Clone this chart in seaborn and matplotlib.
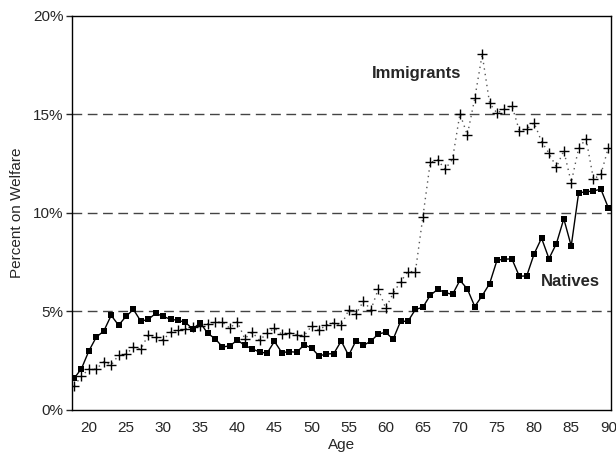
import numpy as np
import pandas as pd
import matplotlib
matplotlib.use("Agg")
import matplotlib.pyplot as plt
import seaborn as sns

ages = list(range(18, 91))

natives = [
    1.6, 2.1, 3.0, 3.7, 4.0, 4.8, 4.3, 4.75, 5.1, 4.5,
    4.6, 4.9, 4.75, 4.6, 4.55, 4.45, 4.1, 4.43, 3.89, 3.62,
    3.2, 3.25, 3.55, 3.28, 3.1, 2.94, 2.88, 3.48, 2.91, 2.96,
    2.93, 3.3, 3.15, 2.74, 2.84, 2.86, 3.5, 2.77, 3.52, 3.28,
    3.49, 3.86, 3.94, 3.59, 4.5, 4.5, 5.1, 5.21, 5.82, 6.12,
    5.96, 5.86, 6.58, 6.14, 5.25, 5.8, 6.41, 7.6, 7.65, 7.67,
    6.79, 6.8, 7.92, 8.72, 7.68, 8.44, 9.7, 8.32, 11.02, 11.07,
    11.12, 11.2, 10.26,
]

immigrants = [
    1.23, 1.71, 2.08, 2.08, 2.45, 2.28, 2.78, 2.84, 3.18, 3.08,
    3.82, 3.71, 3.55, 3.96, 4.06, 4.1, 4.2, 4.28, 4.37, 4.45,
    4.45, 4.15, 4.48, 3.62, 3.94, 3.54, 3.89, 4.15, 3.84, 3.93,
    3.82, 3.76, 4.26, 4.06, 4.3, 4.43, 4.3, 5.06, 4.86, 5.53,
    5.08, 6.14, 5.16, 5.92, 6.51, 7.02, 7.02, 9.78, 12.56, 12.69,
    12.22, 12.73, 15.03, 13.96, 15.82, 18.04, 15.57, 15.06, 15.28, 15.45,
    14.18, 14.26, 14.58, 13.62, 13.03, 12.32, 13.16, 11.54, 13.28, 13.76,
    11.71, 11.96, 13.31,
]

x_ticks = [20, 25, 30, 35, 40, 45, 50, 55, 60, 65, 70, 75, 80, 85, 90]
y_ticks = [0, 5, 10, 15, 20]
y_tick_labels = ["0%", "5%", "10%", "15%", "20%"]
ref_lines = [5, 10, 15]

df = pd.DataFrame({"Age": ages, "Natives": natives, "Immigrants": immigrants})

sns.set_style("white")
plt.rcParams["font.family"] = ["Liberation Sans", "DejaVu Sans"]

fig = plt.figure(figsize=(6.16, 4.53), dpi=100)
ax = fig.add_axes([0.117, 0.095, 0.875, 0.870])

# dashed reference levels at 5%, 10%, 15%
for y in ref_lines:
    ax.axhline(y, color="#444444", linestyle=(0, (7, 4)), linewidth=1.0, zorder=1)

sns.lineplot(data=df, x="Age", y="Immigrants", ax=ax, color="#555555",
             linestyle=(0, (1, 3)), linewidth=1.0, marker="+",
             markersize=7.5, markeredgewidth=1.0, markeredgecolor="black",
             zorder=3)
sns.lineplot(data=df, x="Age", y="Natives", ax=ax, color="black",
             linewidth=1.0, marker="s", markersize=4.5,
             markeredgewidth=0, markerfacecolor="black", zorder=4)

ax.set_xlim(17.73, 90.37)
ax.set_ylim(0, 20)
ax.set_xticks(x_ticks)
ax.set_xticklabels([str(t) for t in x_ticks], fontsize=11)
ax.set_yticks(y_ticks)
ax.set_yticklabels(y_tick_labels, fontsize=11)
ax.tick_params(axis="x", length=0, pad=8)
ax.tick_params(axis="y", length=4, width=1, direction="out", left=True, pad=2)

ax.set_xlabel("Age", fontsize=11, labelpad=2)
ax.set_ylabel("Percent on Welfare", fontsize=11, labelpad=7)

for s in ax.spines.values():
    s.set_color("black")
    s.set_linewidth(1.0)

ax.text(64.2, 17.1, "Immigrants", fontsize=12, fontweight="bold",
        ha="center", va="center")
ax.text(84.9, 6.5, "Natives", fontsize=12, fontweight="bold",
        ha="center", va="center")

fig.savefig("out.png", dpi=100)
